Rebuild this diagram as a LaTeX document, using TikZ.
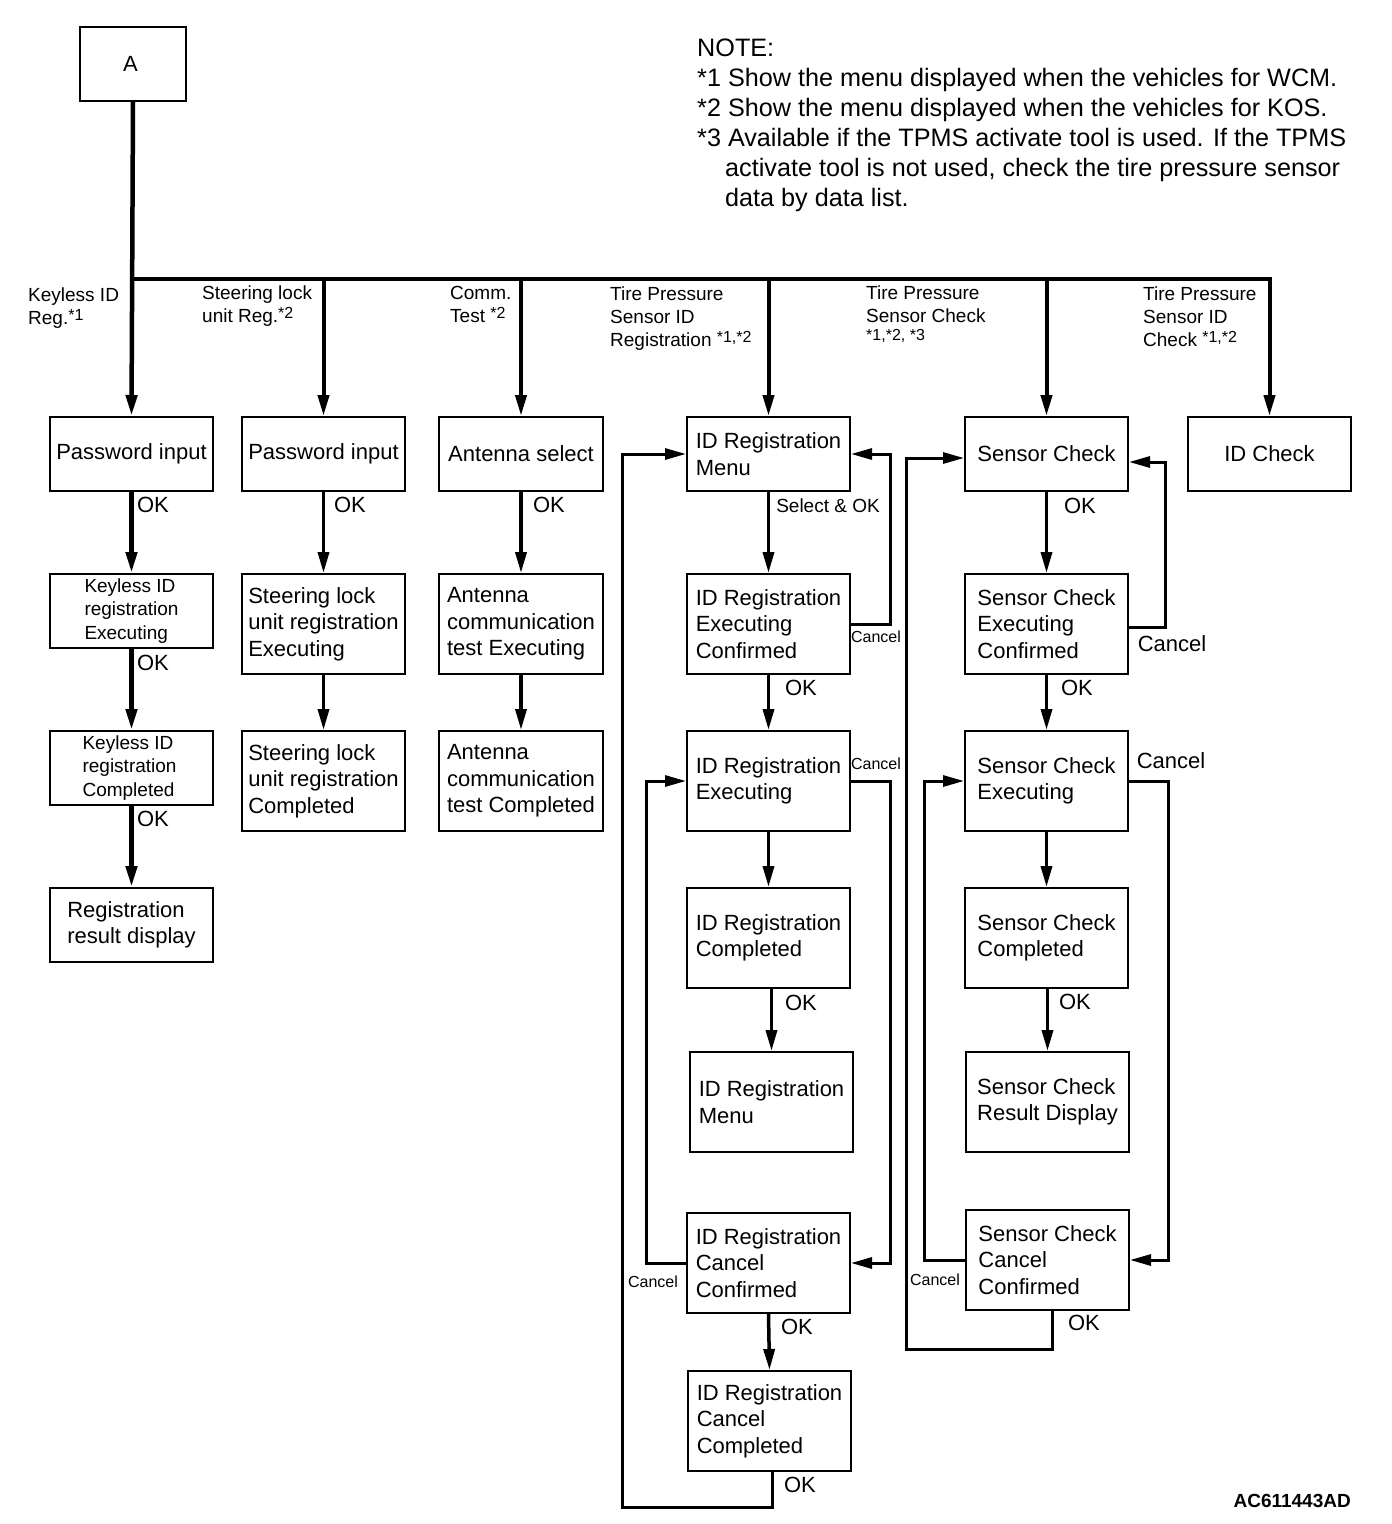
\documentclass[tikz,border=0pt]{standalone}
\usepackage{fontspec}
\setmainfont{Liberation Sans}
\usetikzlibrary{arrows.meta}
\newcommand\fsbig{\fontsize{22}{26.5}\selectfont}
\newcommand\fsmid{\fontsize{19}{23.5}\selectfont}
\newcommand\fslbl{\fontsize{19}{23}\selectfont}
\newcommand\fssmall{\fontsize{16}{19}\selectfont}
\newcommand\fsnote{\fontsize{25.2}{30}\selectfont}
\newcommand\supx[1]{\raisebox{4pt}{\fontsize{16}{16}\selectfont #1}}
\begin{document}
\begin{tikzpicture}[x=1pt,y=-1pt,
  box/.style={draw, line width=2pt, inner sep=0pt, align=left, font=\fsbig, minimum width=163pt, anchor=north west},
  hs/.style={minimum height=74pt},
  hl/.style={minimum height=100pt},
  tip/.style={-{Triangle[length=21pt,width=11pt]}},
  conn/.style={line width=3.5pt, tip},
  conn1/.style={line width=4.5pt, tip},
  loopln/.style={line width=3pt, tip},
  ok/.style={font=\fsbig, inner sep=0pt},
  cs/.style={font=\fssmall, inner sep=0pt},
  lbl/.style={font=\fslbl, inner sep=0pt, align=left, anchor=north west}]
\useasboundingbox (0,0) rectangle (1392,1524);
\fill[white] (0,0) rectangle (1392,1524);

% top box
\node[box, minimum width=106pt, minimum height=74pt, align=center] (A) at (79,26) {A\hspace*{5pt}};

% column 1
\node[box,hs] (pw1) at (49,416) {Password input};
\node[box,hs,font=\fsmid] (kx1) at (49,573) {Keyless ID\\registration\\Executing\hspace*{6pt}};
\node[box,hs,font=\fsmid] (kc1) at (49,730) {Keyless ID\\registration\\Completed\hspace*{6pt}};
\node[box,hs] (rr1) at (49,887) {Registration\\result display};

% column 2
\node[box,hs] (pw2) at (241,416) {Password input};
\node[box,hl] (sx2) at (241,573) {Steering lock\\unit registration\\Executing};
\node[box,hl] (sc2) at (241,730) {Steering lock\\unit registration\\Completed};

% column 3
\node[box,hs,minimum width=164pt] (as3) at (438,416) {Antenna select};
\node[box,hl,minimum width=164pt] (ax3) at (438,573) {Antenna\\communication\\test Executing};
\node[box,hl,minimum width=164pt] (ac3) at (438,730) {Antenna\\communication\\test Completed};

% column 4
\node[box,hs] (mn4) at (686,416) {ID Registration\\Menu};
\node[box,hl] (ec4) at (686,573) {ID Registration\\Executing\\Confirmed};
\node[box,hl] (ex4) at (686,730) {ID Registration\\Executing};
\node[box,hl] (cp4) at (686,887) {ID Registration\\Completed};
\node[box,hl] (mm4) at (689,1051) {ID Registration\\Menu};
\node[box,hl] (cf4) at (686,1212) {ID Registration\\Cancel\\Confirmed};
\node[box,hl] (cc4) at (687,1370) {ID Registration\\Cancel\\Completed};

% column 5
\node[box,hs] (sc5) at (964,416) {Sensor Check};
\node[box,hl] (ec5) at (964,573) {Sensor Check\\Executing\\Confirmed};
\node[box,hl] (ex5) at (964,730) {Sensor Check\\Executing};
\node[box,hl] (cp5) at (964,887) {Sensor Check\\Completed};
\node[box,hl] (rd5) at (965,1051) {Sensor Check\\Result Display};
\node[box,hl] (cf5) at (965,1209) {Sensor Check\\Cancel\\Confirmed};

% column 6
\node[box,hs] (ic6) at (1187,416) {ID Check};

% trunk and bus
\coordinate (bus) at (131,279);
\draw[conn1] (A.south) -- (pw1.north);
\draw[line width=4pt, tip] (A.south |- bus) -| (ic6.north);
\draw[line width=4pt, tip] (pw2.north |- bus) -- (pw2.north);
\draw[line width=4pt, tip] (as3.north |- bus) -- (as3.north);
\draw[line width=4pt, tip] (mn4.north |- bus) -- (mn4.north);
\draw[line width=4pt, tip] (sc5.north |- bus) -- (sc5.north);

% column 1 arrows
\draw[conn1] (pw1.south) -- (kx1.north);
\draw[conn1] (kx1.south) -- (kc1.north);
\draw[conn1] (kc1.south) -- (rr1.north);
\node[ok] (ok11) at (153,505) {OK};
\node[ok] (ok12) at (153,663) {OK};
\node[ok] (ok13) at (153,819) {OK};

% column 2 arrows
\draw[conn] (pw2.south) -- (sx2.north);
\draw[conn] (sx2.south) -- (sc2.north);
\node[ok] (ok21) at (350,505) {OK};

% column 3 arrows
\draw[conn] (as3.south) -- (ax3.north);
\draw[conn] (ax3.south) -- (ac3.north);
\node[ok] (ok31) at (549,505) {OK};

% column 4 arrows
\draw[conn] (mn4.south) -- (ec4.north);
\node[font=\fslbl, inner sep=0pt] (sel4) at (828,506) {Select \& OK};
\draw[conn] (ec4.south) -- (ex4.north);
\node[ok] (ok41) at (801,688) {OK};
\draw[conn] (ex4.south) -- (cp4.north);
\draw[conn] (mm4.north |- cp4.south) -- (mm4.north);
\node[ok] (ok42) at (801,1003) {OK};
\draw[conn] (cf4.south) -- (cc4.north);
\node[ok] (ok43) at (797,1327) {OK};

\draw[loopln] (ec4.east) -- ++(39,0) |- (mn4.east);
\node[cs] (cn41) at (876,637) {Cancel};
\draw[loopln] (ex4.east) -- ++(39,0) |- (cf4.east);
\node[cs] (cn42) at (876,764) {Cancel};
\draw[loopln] (cf4.west) -- ++(-40,0) |- (ex4.west);
\node[cs] (cn43) at (653,1282) {Cancel};
\coordinate (r4) at (622,1507);
\draw[loopln] ([xshift=3pt]cc4.south) |- (r4) |- (mn4.west);
\node[ok] (ok44) at (800,1485) {OK};

% column 5 arrows
\draw[conn] (sc5.south) -- (ec5.north);
\node[ok] (ok51) at (1080,506) {OK};
\draw[conn] (ec5.south) -- (ex5.north);
\node[ok] (ok52) at (1077,688) {OK};
\draw[conn] (ex5.south) -- (cp5.north);
\draw[conn] (rd5.north |- cp5.south) -- (rd5.north);
\node[ok] (ok53) at (1075,1002) {OK};

\draw[loopln] ([yshift=-3pt]ec5.east) -- ++(36,0) |- ([yshift=-8pt]sc5.east);
\node[ok] (cn51) at (1172,644) {Cancel};
\draw[loopln] (ex5.east) -- ++(39,0) |- (cf5.east);
\node[ok] (cn52) at (1171,761) {Cancel};
\draw[loopln] (cf5.west) -- ++(-41,0) |- (ex5.west);
\node[cs] (cn53) at (935,1280) {Cancel};
\coordinate (r5) at (906,1349);
\draw[loopln] ([xshift=5pt]cf5.south) |- (r5) |- ([yshift=-4pt]sc5.west);
\node[ok] (ok54) at (1084,1323) {OK};

% branch labels
\node[lbl] (b1) at (28,288) {Keyless ID\\Reg.\supx{*1}};
\node[lbl] (b2) at (202,286) {Steering lock\\unit Reg.\supx{*2}};
\node[lbl] (b3) at (450,286) {Comm.\\Test \supx{*2}};
\node[lbl] (b4) at (610,287) {Tire Pressure\\Sensor ID\\Registration \supx{*1,*2}};
\node[lbl] (b5) at (866,286) {Tire Pressure\\Sensor Check\\[-1pt]\supx{*1,*2, *3}};
\node[lbl] (b6) at (1143,287) {Tire Pressure\\Sensor ID\\Check \supx{*1,*2}};

% note
\node[font=\fsnote, inner sep=0pt, align=left, anchor=north west] (note) at (697,39)
  {NOTE:\\*1 Show the menu displayed when the vehicles for WCM.\\*2 Show the menu displayed when the vehicles for KOS.\\*3 Available if the TPMS activate tool is used. If the TPMS\\\hspace*{28pt}activate tool is not used, check the tire pressure sensor\\\hspace*{28pt}data by data list.};

\node[font=\fsmid\bfseries, inner sep=0pt, anchor=base east] (code) at (1351,1507) {AC611443AD};
\end{tikzpicture}
\end{document}
